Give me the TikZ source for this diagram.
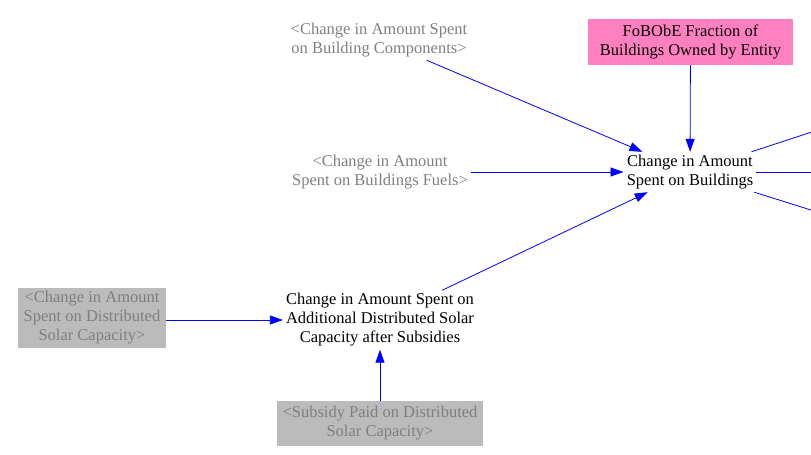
\documentclass[tikz,border=0pt]{standalone}
\usepackage{fontspec}
\setmainfont{Liberation Serif}
\usetikzlibrary{arrows.meta}
\definecolor{vblue}{HTML}{0000FF}
\definecolor{vpink}{HTML}{FF80C0}
\definecolor{vgraybox}{HTML}{BBBBBB}
\definecolor{vgraytext}{HTML}{7F7F7F}
\begin{document}
\begin{tikzpicture}[x=1pt,y=-1pt,
  every node/.style={font=\fontsize{16.5}{19}\selectfont, align=center, inner sep=3pt},
  plainvar/.style={text=black},
  shadowvar/.style={text=vgraytext},
  shadowbox/.style={fill=vgraybox, text=vgraytext},
  pinkbox/.style={fill=vpink, text=black},
  link/.style={draw=vblue, line width=0.8pt, -{Triangle[length=13pt,width=9pt]}},
  outlink/.style={draw=vblue, line width=0.8pt}]
\useasboundingbox (0,0) rectangle (811,455);
\clip (0,0) rectangle (811,455);
\node[shadowvar] (bc) at (379,40) {<Change in Amount Spent\\on Building Components>};
\node[pinkbox, minimum width=205pt, minimum height=46pt] (fob) at (690.5,42) {FoBObE Fraction of\\Buildings Owned by Entity};
\node[shadowvar] (bf) at (380,172) {<Change in Amount\\Spent on Buildings Fuels>};
\node[plainvar] (main) at (690,172) {Change in Amount\\Spent on Buildings};
\node[plainvar] (sol) at (380,320) {Change in Amount Spent on\\Additional Distributed Solar\\Capacity after Subsidies};
\node[shadowbox, minimum width=148pt, minimum height=58pt] (dsc) at (92,318) {<Change in Amount\\Spent on Distributed\\Solar Capacity>};
\node[shadowbox, minimum width=206pt, minimum height=45pt] (sub) at (380,423.5) {<Subsidy Paid on Distributed\\Solar Capacity>};
\coordinate (o1) at (830,126);
\coordinate (o2) at (830,172);
\coordinate (o3) at (830,216);
\draw[link] (bc) -- (main);
\draw[link] (bf.east |- main.west) -- (main.west);
\draw[link] (sol) -- (main);
\draw[link] (fob) -- (main);
\draw[link] (dsc.east |- sol.west) -- (sol.west);
\draw[link] (sub) -- (sol);
\draw[outlink] (main) -- (o1);
\draw[outlink] (main.east) -- (o2);
\draw[outlink] (main) -- (o3);
\end{tikzpicture}
\end{document}
